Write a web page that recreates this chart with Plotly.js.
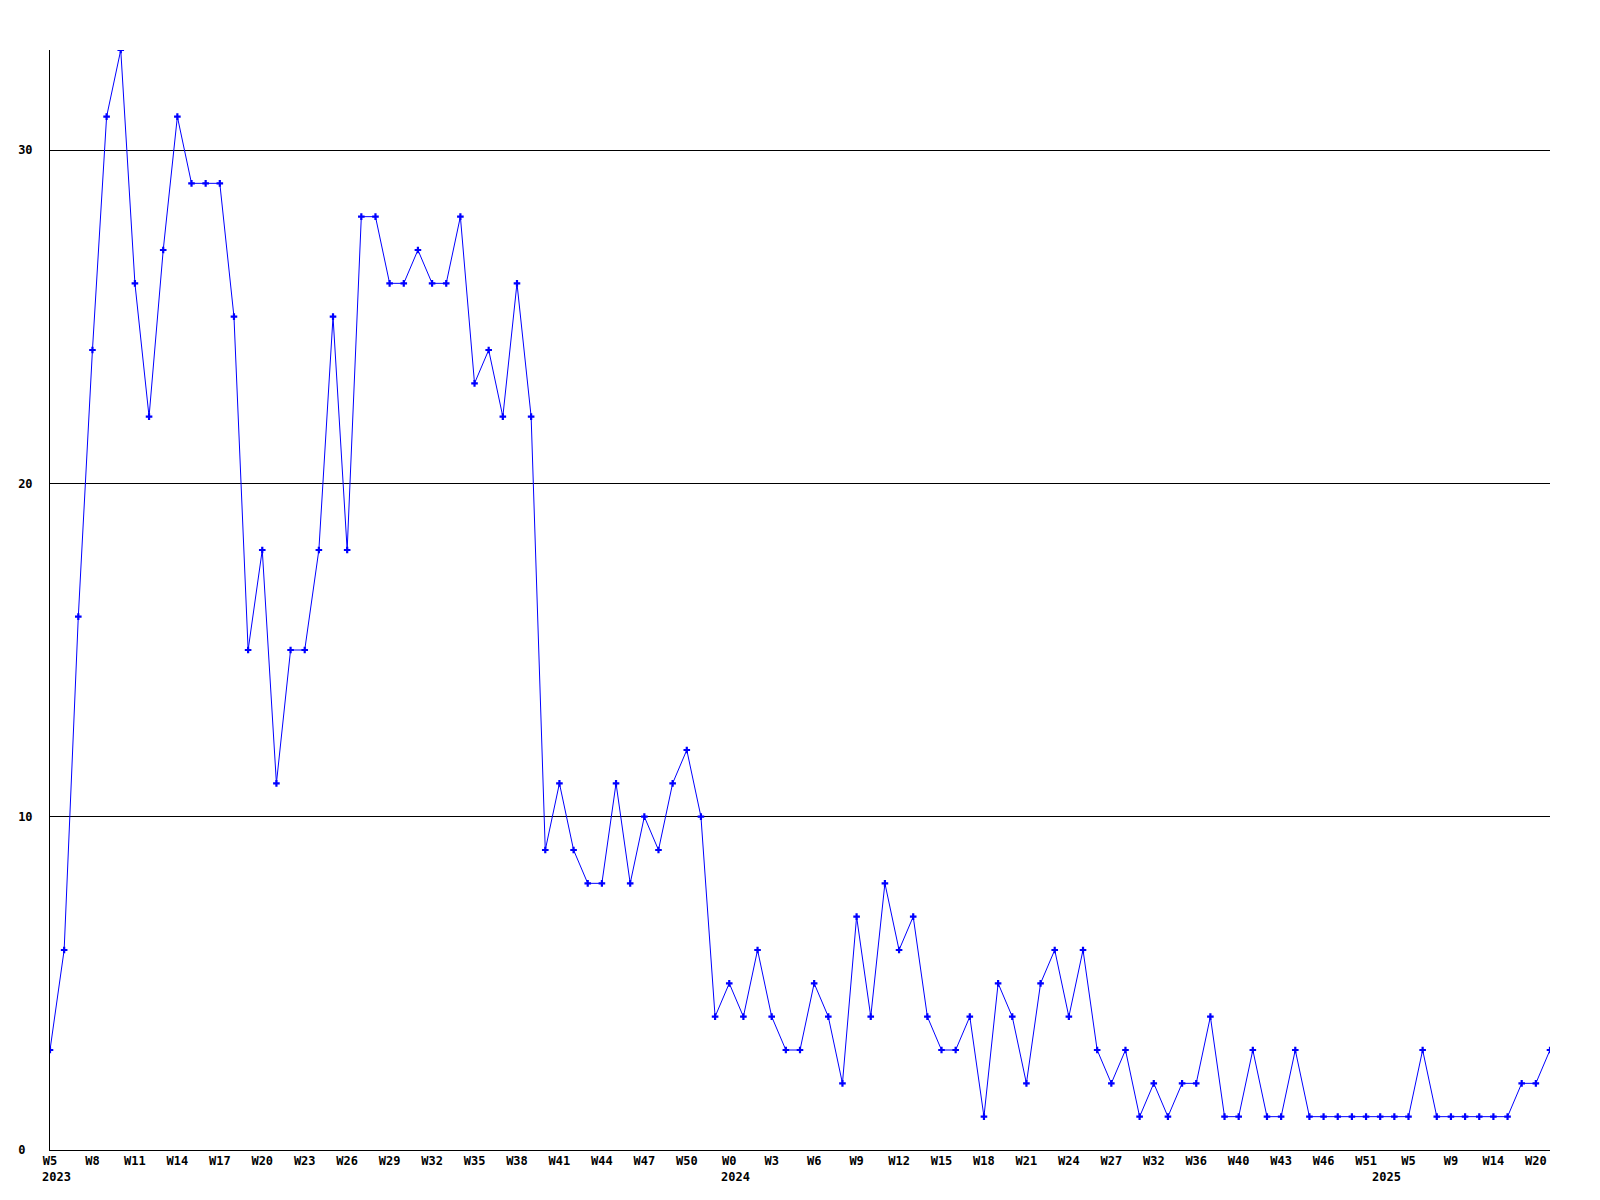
<!DOCTYPE html>
<html>
<head>
<meta charset="utf-8">
<script src="https://cdn.plot.ly/plotly-3.0.1.min.js"></script>
<style>
html,body{margin:0;padding:0;background:#fff;}
#chart{width:1600px;height:1200px;}
</style>
</head>
<body>
<div id="chart"></div>
<script>
// Weekly values, one per point (index 0..106)
const values = [3,6,16,24,31,33,26,22,27,31,29,29,29,25,15,18,11,15,15,18,25,18,28,28,26,26,27,26,26,28,23,24,22,26,22,
  9,11,9,8,8,11,8,10,9,11,12,10,
  4,5,4,6,4,3,3,5,4,2,7,4,8,6,7,4,3,3,4,1,5,4,2,5,6,4,6,3,2,3,1,2,1,2,2,4,1,1,3,1,1,3,
  1,1,1,1,1,1,1,1,3,1,1,1,1,1,1,2,2,3];
// Week tick labels, one for every third point
const weekLabels = ["W5","W8","W11","W14","W17","W20","W23","W26","W29","W32","W35","W38",
  "W41","W44","W47","W50","W0","W3","W6","W9","W12","W15","W18","W21",
  "W24","W27","W32","W36","W40","W43","W46","W51","W5","W9","W14","W20"];
const yearLabels = ["2023","2024","2025"];
const yearIndex = [0,48,94];
const yTicks = [0,10,20,30];

const xs = values.map((v,i)=>i);
const tickvals = weekLabels.map((w,i)=>i*3);
const font = {family:"DejaVu Sans Mono", size:12, color:"#000"};

const trace = {
  x: xs, y: values, type:"scatter", mode:"lines+markers",
  line:{color:"#0000ff", width:1},
  marker:{color:"#0000ff", symbol:"cross", size:5.5, line:{width:0}},
  hoverinfo:"skip"
};

const annotations = yearLabels.map((t,i)=>({
  x: yearIndex[i], xref:"x", y:0, yref:"paper",
  text:"<b>"+t+"</b>", showarrow:false, xanchor:"left", yanchor:"middle",
  xshift:-10, yshift:-27, font:font
}));

const layout = {
  width:1600, height:1200,
  margin:{l:50, r:50, t:50, b:50},
  paper_bgcolor:"#fff", plot_bgcolor:"#fff",
  showlegend:false,
  xaxis:{
    range:[0,106], tickvals:tickvals, ticktext:weekLabels.map(w=>"<b>"+w+"</b>"),
    showgrid:false, zeroline:false, showline:true, linecolor:"#000", linewidth:1,
    ticks:"", tickfont:font, fixedrange:true
  },
  yaxis:{
    range:[0,33], tickvals:yTicks, ticktext:yTicks.map(v=>"<b>"+(v<10?v+"\u00a0":v)+"</b>"),
    showgrid:true, gridcolor:"#000", gridwidth:1, zeroline:false,
    showline:true, linecolor:"#000", linewidth:1,
    ticks:"", tickfont:font, ticklabelstandoff:14, fixedrange:true
  },
  annotations: annotations
};

Plotly.newPlot("chart", [trace], layout, {staticPlot:true, displayModeBar:false});
</script>
</body>
</html>
